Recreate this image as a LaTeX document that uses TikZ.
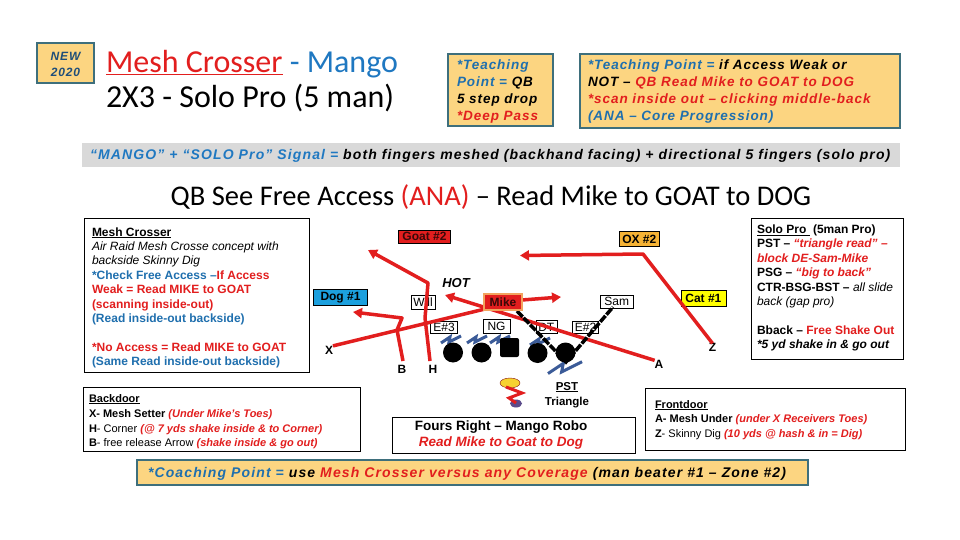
\documentclass[tikz,border=0pt]{standalone}
\usepackage{fontspec}
\setmainfont{Liberation Sans}
\newfontfamily\calfont{Carlito}
\newfontfamily\wideA[LetterSpace=7]{Liberation Sans}
\newfontfamily\wideB[LetterSpace=8]{Liberation Sans}
\usetikzlibrary{arrows.meta}
\definecolor{cGold}{HTML}{FCD581}
\definecolor{cTeal}{HTML}{3E6F7C}
\definecolor{cRed}{HTML}{E21E1E}
\definecolor{cBlue}{HTML}{1F6FAE}
\definecolor{cTBlue}{HTML}{1F78C1}
\definecolor{cNavy}{HTML}{1F4E79}
\definecolor{cGray}{HTML}{D9D9D9}
\definecolor{cDog}{HTML}{1CA0DE}
\definecolor{cOx}{HTML}{F6B335}
\definecolor{cYel}{HTML}{FFFF00}
\definecolor{cMikeB}{HTML}{F2A35E}
\definecolor{cZig}{HTML}{3B5B98}
\definecolor{cDark}{HTML}{3A0808}
\definecolor{cQB}{HTML}{F7D230}
\definecolor{cPurp}{HTML}{5B4B8A}
\tikzset{
  goldbox/.style={draw=cTeal, line width=1.5pt, fill=cGold},
  whitebox/.style={draw=black, line width=0.8pt, fill=white},
  tw/.style={anchor=base west, font=\wideA\bfseries\itshape\fontsize{13.5}{16}\selectfont},
  tsig/.style={anchor=base west, font=\wideB\bfseries\itshape\fontsize{14}{16}\selectfont},
  t12/.style={anchor=base west, font=\fontsize{12}{14}\selectfont},
  t11/.style={anchor=base west, font=\fontsize{11}{13}\selectfont},
  lab/.style={draw=black, line width=0.6pt, fill=white, font=\fontsize{12}{14}\selectfont},
  blab/.style={lab, font=\bfseries\fontsize{12}{14}\selectfont},
  plab/.style={font=\bfseries\fontsize{12}{14}\selectfont},
  route/.style={draw=cRed, line width=3.5pt, line join=round},
  arr/.style={-{Triangle[length=9pt,width=10pt]}},
  blk/.style={draw=black, line width=3.5pt, dash pattern=on 8pt off 1.5pt},
  zz/.style={draw=cZig, line width=3pt, line join=miter},
  lman/.style={fill=black, circle, minimum size=20pt},
  zig/.pic={\draw[zz] (0,8) -- (9,2) -- (8,7) -- (20,1);}
}
\begin{document}
\begin{tikzpicture}[x=1pt,y=-1pt, every node/.style={inner sep=0pt,outer sep=0pt}]
\useasboundingbox[fill=white] (0,0) rectangle (960,540);

% NEW 2020
\draw[goldbox] (37,43) rectangle (94,83);
\node[anchor=base, font=\wideA\bfseries\itshape\fontsize{12}{14}\selectfont, text=cNavy] (new1) at (65.5,61) {NEW};
\node[anchor=base, font=\wideA\bfseries\itshape\fontsize{12}{14}\selectfont, text=cNavy] (new2) at (65.5,77) {2020};

% Title
\node[anchor=base west, font=\calfont\fontsize{32}{36}\selectfont] (title1) at (106,73)
  {\textcolor{cRed}{\underline{Mesh Crosser}}\ \textcolor{cTBlue}{- Mango}};
\node[anchor=base west, font=\calfont\fontsize{32}{36}\selectfont] (title2) at (106,108)
  {2X3 - Solo Pro (5 man)};

% Teaching boxes
\draw[goldbox] (448,54) rectangle (553,126);
\node[tw] (ta1) at (457,70) {\textcolor{cBlue}{*Teaching}};
\node[tw] (ta2) at (457,87) {\textcolor{cBlue}{Point =} QB};
\node[tw] (ta3) at (457,104) {5 step drop};
\node[tw] (ta4) at (457,121) {\textcolor{cRed}{*Deep Pass}};

\draw[goldbox] (580,54) rectangle (900,128);
\node[tw] (tb1) at (588,70) {\textcolor{cBlue}{*Teaching Point =} if Access Weak or};
\node[tw] (tb2) at (588,87) {NOT – \textcolor{cRed}{QB Read Mike to GOAT to DOG}};
\node[tw] (tb3) at (588,104) {\textcolor{cRed}{*scan inside out – clicking middle-back}};
\node[tw] (tb4) at (588,121) {\textcolor{cBlue}{(ANA – Core Progression)}};

% Signal bar
\fill[cGray] (82,143) rectangle (900,167);
\node[tsig] (sig) at (90,160) {\textcolor{cTBlue}{“MANGO” + “SOLO Pro” Signal =} both fingers meshed (backhand facing) + directional 5 fingers (solo pro)};

% Heading
\node[anchor=base, font=\calfont\fontsize{28.5}{32}\selectfont] (head) at (491,205)
  {QB See Free Access \textcolor{cRed}{(ANA)} – Read Mike to GOAT to DOG};

% Left box
\draw[whitebox] (84,218) rectangle (309,372);
\node[t12] (lb1) at (92,236) {\bfseries\underline{Mesh Crosser}};
\node[t12] (lb2) at (92,250.5) {\itshape Air Raid Mesh Crosse concept with};
\node[t12] (lb3) at (92,264.5) {\itshape backside Skinny Dig};
\node[t12] (lb4) at (92,279.5) {\bfseries\textcolor{cBlue}{*Check Free Access –}\textcolor{cRed}{If Access}};
\node[t12] (lb5) at (92,293.5) {\bfseries\textcolor{cRed}{Weak = Read MIKE to GOAT}};
\node[t12] (lb6) at (92,308.5) {\bfseries\textcolor{cRed}{(scanning inside-out)}};
\node[t12] (lb7) at (92,322.5) {\bfseries\textcolor{cBlue}{(Read inside-out backside)}};
\node[t12] (lb8) at (92,351.5) {\bfseries\textcolor{cRed}{*No Access = Read MIKE to GOAT}};
\node[t12] (lb9) at (92,365.5) {\bfseries\textcolor{cBlue}{(Same Read inside-out backside)}};

% Right box
\draw[whitebox] (751,218) rectangle (903,359);
\node[t12] (rb1) at (757,233.5) {\bfseries\underline{Solo Pro }\ (5man Pro)};
\node[t12] (rb2) at (757,247.5) {\bfseries PST – \textcolor{cRed}{\itshape “triangle read” –}};
\node[t12] (rb3) at (757,262.5) {\bfseries\itshape\textcolor{cRed}{block DE-Sam-Mike}};
\node[t12] (rb4) at (757,276.5) {\bfseries PSG – \textcolor{cRed}{\itshape “big to back”}};
\node[t12] (rb5) at (757,291.5) {\textbf{CTR-BSG-BST –} \textit{all slide}};
\node[t12] (rb6) at (757,305.5) {\itshape back (gap pro)};
\node[t12] (rb7) at (757,334.5) {\bfseries Bback – \textcolor{cRed}{Free Shake Out}};
\node[t12] (rb8) at (757,348.5) {\bfseries\itshape *5 yd shake in \& go out};

% Backdoor box
\draw[whitebox] (83,387) rectangle (360,451);
\node[t11] (bd1) at (89,402) {\bfseries\underline{Backdoor}};
\node[t11] (bd2) at (89,417) {\textbf{X- Mesh Setter} \textcolor{cRed}{\bfseries\itshape (Under Mike’s Toes)}};
\node[t11] (bd3) at (89,432) {\textbf{H}- Corner \textcolor{cRed}{\bfseries\itshape (@ 7 yds shake inside \& to Corner)}};
\node[t11] (bd4) at (89,446) {\textbf{B}- free release Arrow \textcolor{cRed}{\bfseries\itshape (shake inside \& go out)}};

% Center box
\draw[whitebox] (392,417) rectangle (635,453);
\node[anchor=base, font=\bfseries\fontsize{13.5}{15}\selectfont] (cb1) at (501,430) {Fours Right – Mango Robo};
\node[anchor=base, font=\bfseries\itshape\fontsize{13.5}{15}\selectfont, text=cRed] (cb2) at (501,446) {Read Mike to Goat to Dog};

% Frontdoor box
\draw[whitebox] (645,388) rectangle (905,450);
\node[t11] (fd1) at (655,408) {\bfseries\underline{Frontdoor}};
\node[t11] (fd2) at (655,422) {\textbf{A- Mesh Under} \textcolor{cRed}{\bfseries\itshape (under X Receivers Toes)}};
\node[t11] (fd3) at (655,437) {\textbf{Z}- Skinny Dig \textcolor{cRed}{\bfseries\itshape (10 yds @ hash \& in = Dig)}};

% Coaching bar
\draw[goldbox] (137,460) rectangle (808,485);
\node[anchor=base west, font=\wideB\bfseries\itshape\fontsize{14}{16}\selectfont] (coach) at (148,477.5)
  {\textcolor{cBlue}{*Coaching Point =} use \textcolor{cRed}{Mesh Crosser versus any Coverage} (man beater \#1 – Zone \#2)};

% ---------- Field ----------
\node[blab, fill=cRed, text=cDark, minimum width=52pt, minimum height=13.5pt] (goat) at (424.5,236.7) {Goat \#2};
\node[blab, fill=cOx, minimum width=40pt, minimum height=15pt] (ox) at (639.3,239.2) {OX \#2};
\node[blab, fill=cYel, minimum width=45pt, minimum height=16pt] (cat) at (703.4,298) {Cat \#1};
\node[blab, fill=cDog, minimum width=54pt, minimum height=16.5pt] (dog) at (340.5,297.3) {Dog \#1};
\node[lab, minimum width=24pt, minimum height=14pt] (will) at (423,302) {Will};
\node[lab, minimum width=33pt, minimum height=13pt] (sam) at (616.7,301.7) {Sam};
\node[lab, minimum width=27pt, minimum height=12pt] (e3) at (444,327.5) {E\#3};
\node[lab, minimum width=27pt, minimum height=14pt] (ng) at (496.5,326) {NG};
\node[lab, minimum width=21pt, minimum height=13pt] (dt) at (546.3,327) {DT};
\node[lab, minimum width=26pt, minimum height=12pt] (e2) at (585.5,327.5) {E\#2};
\node[font=\bfseries\itshape\fontsize{13}{15}\selectfont] (hot) at (456,283.5) {HOT};

% offensive line
\pic at (441,335) {zig};
\pic at (467,335) {zig};
\pic at (490,335) {zig};
\pic at (530,337) {zig};
\pic[scale=1.7] at (548,360) {zig};
\node[lman] (ol1) at (453,352.5) {};
\node[lman] (ol2) at (481.5,352.5) {};
\node[fill=black, rounded corners=2pt, minimum size=19pt] (ctr) at (509.5,347.5) {};
\node[lman] (ol4) at (537.5,353) {};
\node[lman] (ol5) at (565.5,352.5) {};

% receivers
\node[plab] (pX) at (329,350) {X};
\node[plab] (pB) at (402,369) {B};
\node[plab] (pH) at (433,369) {H};
\node[plab] (pA) at (659,364.5) {A};
\node[plab] (pZ) at (712.5,347.5) {Z};

% routes
\coordinate (h1) at (425,318); \coordinate (h2) at (428,283); \coordinate (hE) at (368,250);
\draw[route, arr] (430,361) -- (h1) -- (h2) -- (hE);
\coordinate (b1) at (397,330); \coordinate (b2) at (402,318); \coordinate (bE) at (353,312);
\draw[route, arr] (403,361) -- (b1) -- (b2) -- (bE);
\coordinate (x1) at (522,300); \coordinate (xE) at (561,297);
\draw[route, arr] (pX.north east) -- (x1) -- (xE);
\coordinate (aE) at (445,295);
\draw[route, arr] (pA.north west) -- (aE);
\coordinate (z1) at (643,254); \coordinate (zE) at (520,255.5);
\draw[route, arr] (pZ.north) -- (z1) -- (zE);

% PST triangle read
\coordinate (k1) at (517,311); \coordinate (k2) at (566,362); \coordinate (k3) at (613,307);
\draw[blk] (k1) -- (k2) -- (k3);

% Mike
\node[blab, fill=cRed, draw=cMikeB, line width=2.5pt, text=cDark, minimum width=38pt, minimum height=16pt] (mike) at (503,302) {Mike};

% PST icon
\fill[cQB, draw=cRed!60!black, line width=0.4pt] (510,383) ellipse (10pt and 5pt);
\fill[cPurp] (516,403.5) ellipse (6pt and 4pt);
\draw[cRed, line width=3pt, line join=miter] (506,387) -- (522,393) -- (509,398) -- (516,403);
\node[anchor=base, font=\bfseries\fontsize{11.5}{14}\selectfont] (pst) at (567,390) {\underline{PST}};
\node[anchor=base, font=\bfseries\fontsize{11.5}{14}\selectfont] (tri) at (567,405) {Triangle};

\end{tikzpicture}
\end{document}
